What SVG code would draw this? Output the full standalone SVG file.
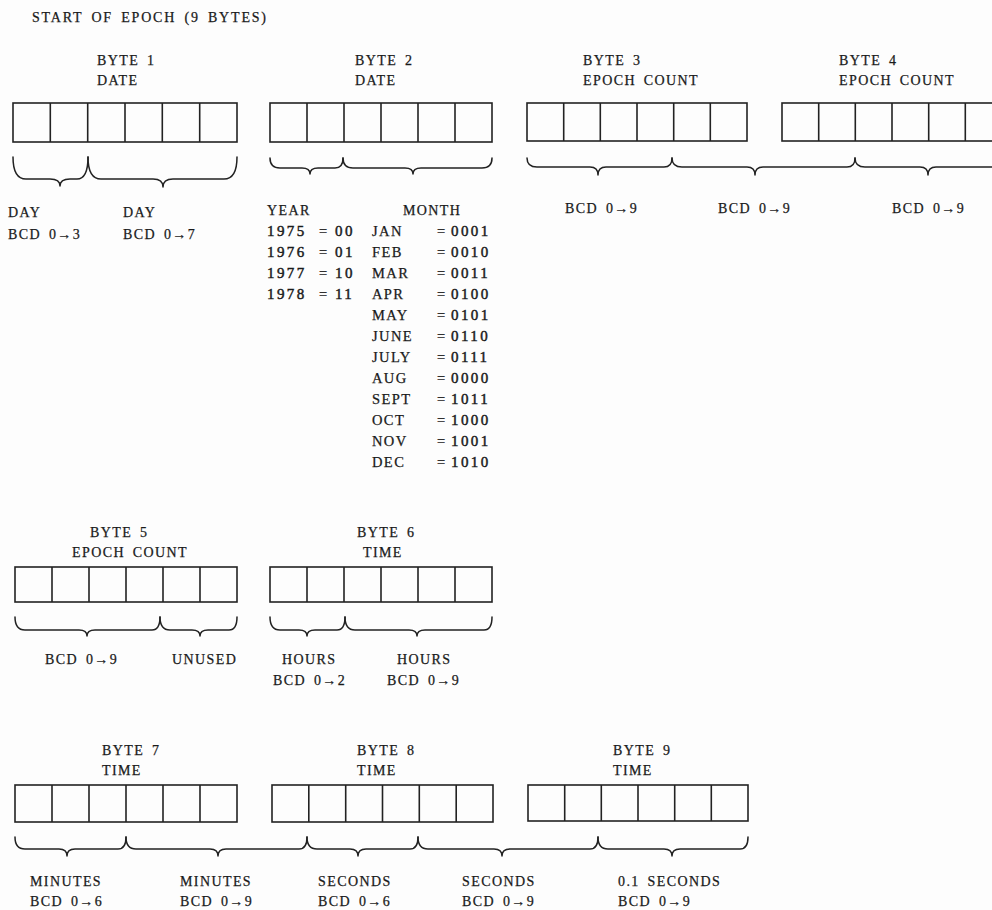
<svg xmlns="http://www.w3.org/2000/svg" width="992" height="910" viewBox="0 0 992 910">
<style>
  text { font-family: "Liberation Serif", "Times New Roman", serif; font-size: 14px; fill: #1a1a1a; stroke: #1a1a1a; stroke-width: 0.25; letter-spacing: 1.4px; word-spacing: 3px; }
  .tbl text { font-size: 14.5px; letter-spacing: 1.4px; }
  .tbl .num { font-size: 15px; letter-spacing: 2.4px; stroke-width: 0.45; }
  .cell { fill: none; stroke: #222; stroke-width: 1.6; }
  .brace { fill: none; stroke: #222; stroke-width: 1.5; stroke-linejoin: round; stroke-linecap: round; }
</style>
<rect x="0" y="0" width="992" height="910" fill="#fdfdfd"/>
<text x="32" y="22" style="letter-spacing:1.8px">START OF EPOCH (9 BYTES)</text>

<g id="byte1">
  <text x="97" y="65">BYTE 1</text>
  <text x="97" y="85">DATE</text>
  <rect class="cell" x="13" y="103" width="224" height="39"/>
  <path class="cell" d="M50.3 103V142M87.7 103V142M125 103V142M162.3 103V142M199.7 103V142"/>
</g>
<g id="byte2">
  <text x="355" y="65">BYTE 2</text>
  <text x="355" y="85">DATE</text>
  <rect class="cell" x="270" y="103" width="222" height="39"/>
  <path class="cell" d="M307 103V142M344 103V142M381 103V142M418 103V142M455 103V142"/>
</g>
<g id="byte3">
  <text x="583" y="65">BYTE 3</text>
  <text x="583" y="85">EPOCH COUNT</text>
  <rect class="cell" x="527" y="103" width="220" height="38"/>
  <path class="cell" d="M563.7 103V141M600.3 103V141M637 103V141M673.7 103V141M710.3 103V141"/>
</g>
<g id="byte4">
  <text x="839" y="65">BYTE 4</text>
  <text x="839" y="85">EPOCH COUNT</text>
  <rect class="cell" x="782" y="103" width="220" height="38"/>
  <path class="cell" d="M818.7 103V141M855.3 103V141M892 103V141M928.7 103V141M965.3 103V141"/>
</g>
<g id="byte5">
  <text x="90" y="537">BYTE 5</text>
  <text x="72" y="557">EPOCH COUNT</text>
  <rect class="cell" x="15" y="567" width="222" height="35"/>
  <path class="cell" d="M52 567V602M89 567V602M126 567V602M163 567V602M200 567V602"/>
</g>
<g id="byte6">
  <text x="357" y="537">BYTE 6</text>
  <text x="363" y="557">TIME</text>
  <rect class="cell" x="270" y="567" width="222" height="35"/>
  <path class="cell" d="M307 567V602M344 567V602M381 567V602M418 567V602M455 567V602"/>
</g>
<g id="byte7">
  <text x="102" y="755">BYTE 7</text>
  <text x="102" y="775">TIME</text>
  <rect class="cell" x="15" y="785" width="222" height="37"/>
  <path class="cell" d="M52 785V822M89 785V822M126 785V822M163 785V822M200 785V822"/>
</g>
<g id="byte8">
  <text x="357" y="755">BYTE 8</text>
  <text x="357" y="775">TIME</text>
  <rect class="cell" x="272" y="785" width="221" height="37"/>
  <path class="cell" d="M308.8 785V822M345.7 785V822M382.5 785V822M419.3 785V822M456.2 785V822"/>
</g>
<g id="byte9">
  <text x="613" y="755">BYTE 9</text>
  <text x="613" y="775">TIME</text>
  <rect class="cell" x="528" y="785" width="220" height="36"/>
  <path class="cell" d="M564.7 785V821M601.3 785V821M638 785V821M674.7 785V821M711.3 785V821"/>
</g>

<g id="connectors">
  <path class="brace" d="M13 157Q13 179 26 179L50 179Q60 179 60 186Q60 179 70 179L77 179Q88 179 88 157"/>
  <path class="brace" d="M88 157Q88 179 101 179L153 179Q163 179 163 187Q163 179 173 179L224 179Q237 179 237 157"/>
  <path class="brace" d="M270 158Q270 168 280 168L302 168Q310 168 310 174Q310 168 318 168L335 168Q343 168 343 158"/>
  <path class="brace" d="M343 158Q343 168 353 168L405 168Q413 168 413 174Q413 168 421 168L482 168Q492 168 492 158"/>
  <path class="brace" d="M527 158Q527 167 537 167L590 167Q598 167 598 175Q598 167 606 167L664 167Q672 167 672 158"/>
  <path class="brace" d="M672 158Q672 167 682 167L747 167Q755 167 755 175Q755 167 763 167L847 167Q855 167 855 158"/>
  <path class="brace" d="M855 158Q855 167 865 167L920 167Q928 167 928 175Q928 167 936 167L992 167Q1002 167 1002 158"/>
  <path class="brace" d="M15 617Q15 630 25 630L79 630Q87 630 87 636Q87 630 95 630L152 630Q160 630 160 617"/>
  <path class="brace" d="M160 617Q160 630 170 630L192 630Q200 630 200 636Q200 630 208 630L229 630Q237 630 237 617"/>
  <path class="brace" d="M270 617Q270 630 280 630L299 630Q307 630 307 636Q307 630 315 630L337 630Q345 630 345 617"/>
  <path class="brace" d="M345 617Q345 630 355 630L409 630Q417 630 417 636Q417 630 425 630L484 630Q492 630 492 617"/>
  <path class="brace" d="M15 837Q15 849 25 849L59 849Q67 849 67 856Q67 849 75 849L118 849Q126 849 126 837"/>
  <path class="brace" d="M126 837Q126 849 136 849L210 849Q218 849 218 856Q218 849 226 849L299 849Q307 849 307 837"/>
  <path class="brace" d="M307 837Q307 849 317 849L350 849Q358 849 358 856Q358 849 366 849L410 849Q418 849 418 837"/>
  <path class="brace" d="M418 837Q418 849 428 849L494 849Q502 849 502 856Q502 849 510 849L590 849Q598 849 598 837"/>
  <path class="brace" d="M598 837Q598 849 608 849L664 849Q672 849 672 856Q672 849 680 849L740 849Q748 849 748 837"/>
</g>

<g id="labels-byte1-2">
  <text x="8" y="217">DAY</text>
  <text x="8" y="239">BCD 0→3</text>
  <text x="123" y="217">DAY</text>
  <text x="123" y="239">BCD 0→7</text>
  <text x="267" y="215">YEAR</text>
  <text x="403" y="215">MONTH</text>
</g>
<g id="year-table" class="tbl">
  <text class="num" x="267" y="236">1975</text><text x="319" y="236">=</text><text class="num" x="335" y="236">00</text>
  <text class="num" x="267" y="257">1976</text><text x="319" y="257">=</text><text class="num" x="335" y="257">01</text>
  <text class="num" x="267" y="278">1977</text><text x="319" y="278">=</text><text class="num" x="335" y="278">10</text>
  <text class="num" x="267" y="299">1978</text><text x="319" y="299">=</text><text class="num" x="335" y="299">11</text>
</g>
<g id="month-table" class="tbl">
  <text x="372" y="236">JAN</text><text x="437" y="236">=</text><text class="num" x="451" y="236">0001</text>
  <text x="372" y="257">FEB</text><text x="437" y="257">=</text><text class="num" x="451" y="257">0010</text>
  <text x="372" y="278">MAR</text><text x="437" y="278">=</text><text class="num" x="451" y="278">0011</text>
  <text x="372" y="299">APR</text><text x="437" y="299">=</text><text class="num" x="451" y="299">0100</text>
  <text x="372" y="320">MAY</text><text x="437" y="320">=</text><text class="num" x="451" y="320">0101</text>
  <text x="372" y="341">JUNE</text><text x="437" y="341">=</text><text class="num" x="451" y="341">0110</text>
  <text x="372" y="362">JULY</text><text x="437" y="362">=</text><text class="num" x="451" y="362">0111</text>
  <text x="372" y="383">AUG</text><text x="437" y="383">=</text><text class="num" x="451" y="383">0000</text>
  <text x="372" y="404">SEPT</text><text x="437" y="404">=</text><text class="num" x="451" y="404">1011</text>
  <text x="372" y="425">OCT</text><text x="437" y="425">=</text><text class="num" x="451" y="425">1000</text>
  <text x="372" y="446">NOV</text><text x="437" y="446">=</text><text class="num" x="451" y="446">1001</text>
  <text x="372" y="467">DEC</text><text x="437" y="467">=</text><text class="num" x="451" y="467">1010</text>
</g>
<g id="labels-byte3-4">
  <text x="565" y="213">BCD 0→9</text>
  <text x="718" y="213">BCD 0→9</text>
  <text x="892" y="213">BCD 0→9</text>
</g>
<g id="labels-byte5-6">
  <text x="45" y="664">BCD 0→9</text>
  <text x="172" y="664">UNUSED</text>
  <text x="282" y="664">HOURS</text>
  <text x="397" y="664">HOURS</text>
  <text x="273" y="685">BCD 0→2</text>
  <text x="387" y="685">BCD 0→9</text>
</g>
<g id="labels-byte7-9">
  <text x="30" y="886">MINUTES</text>
  <text x="30" y="906">BCD 0→6</text>
  <text x="180" y="886">MINUTES</text>
  <text x="180" y="906">BCD 0→9</text>
  <text x="318" y="886">SECONDS</text>
  <text x="318" y="906">BCD 0→6</text>
  <text x="462" y="886">SECONDS</text>
  <text x="462" y="906">BCD 0→9</text>
  <text x="618" y="886">0.1 SECONDS</text>
  <text x="618" y="906">BCD 0→9</text>
</g>
</svg>
